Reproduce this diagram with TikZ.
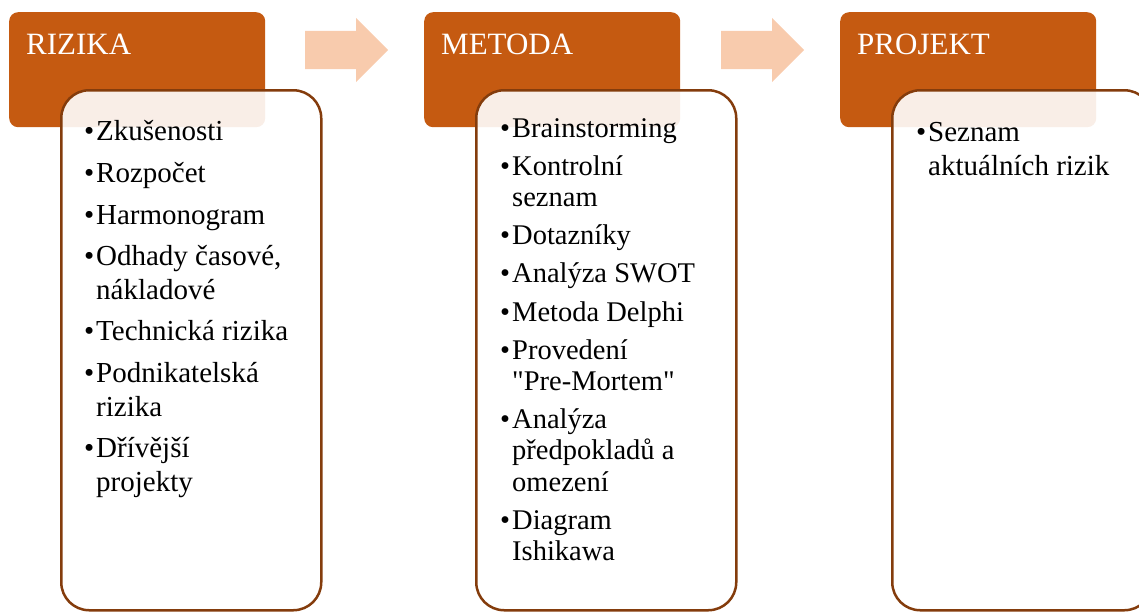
\documentclass[tikz,border=0pt]{standalone}
\usepackage{fontspec}
\setmainfont{Liberation Serif}
\usepackage{array}
\usetikzlibrary{positioning,shapes.arrows}
\definecolor{oranzova}{HTML}{C55A11}
\definecolor{broskev}{HTML}{F8CBAD}
\definecolor{hneda}{HTML}{843C0C}

\begin{document}
\begin{tikzpicture}[x=1pt,y=1pt,
		hlavicka/.style={rectangle,rounded corners=9pt,fill=oranzova,minimum width=256pt,minimum height=115pt,anchor=north west,inner sep=0},
		nadpis/.style={text=white,font=\fontsize{31}{36}\selectfont,inner sep=0},
		seznam/.style={rectangle,rounded corners=28pt,draw=hneda,line width=2.5pt,fill=white,fill opacity=0.9,minimum width=260pt,minimum height=520pt,inner sep=0},
		polozky/.style={inner sep=0,align=left},
		sipka/.style={single arrow,fill=broskev,draw=none,minimum height=83pt,single arrow head extend=13pt,inner xsep=0,inner ysep=19pt,anchor=tail}]
		\useasboundingbox (0,0) rectangle (1139,-611);
		\clip (0,0) rectangle (1139,-611);

		\node[hlavicka](rizika) at (9,-12){};
		\node[hlavicka](metoda) at (424,-12){};
		\node[hlavicka](projekt) at (840,-12){};
		\node[nadpis,below right=21.5pt and 17pt of rizika.north west]{RIZIKA};
		\node[nadpis,below right=21.5pt and 17pt of metoda.north west]{METODA};
		\node[nadpis,below right=21.5pt and 17pt of projekt.north west]{PROJEKT};

		\node[sipka](sipka_1) at (305,-50){};
		\node[sipka](sipka_2) at (721,-50){};

		\node[seznam](rizika_s)[below right=77pt and 51pt of rizika.north west]{};
		\node[seznam](metoda_s)[below right=77pt and 51pt of metoda.north west]{};
		\node[seznam](projekt_s)[below right=77pt and 51pt of projekt.north west]{};

		\node[polozky,font=\fontsize{29}{33.6}\selectfont](rizika_t)[below right=28.2pt and 24pt of rizika_s.north west]{%
			\begin{tabular}{@{}p{12pt}@{}l@{}}
			•&Zkušenosti\\[8pt]
			•&Rozpočet\\[8pt]
			•&Harmonogram\\[8pt]
			•&Odhady časové,\\&nákladové\\[8pt]
			•&Technická rizika\\[8pt]
			•&Podnikatelská\\&rizika\\[8pt]
			•&Dřívější\\&projekty
			\end{tabular}};
		\node[polozky,font=\fontsize{28.5}{31.2}\selectfont](metoda_t)[below right=26pt and 25pt of metoda_s.north west]{%
			\begin{tabular}{@{}p{12pt}@{}l@{}}
			•&Brainstorming\\[7pt]
			•&Kontrolní\\&seznam\\[7pt]
			•&Dotazníky\\[7pt]
			•&Analýza SWOT\\[7pt]
			•&Metoda Delphi\\[7pt]
			•&Provedení\\&\textquotedbl Pre-Mortem\textquotedbl\\[7pt]
			•&Analýza\\&předpokladů a\\&omezení\\[7pt]
			•&Diagram\\&Ishikawa
			\end{tabular}};
		\node[polozky,font=\fontsize{29}{33.3}\selectfont](projekt_t)[below right=29.4pt and 25pt of projekt_s.north west]{%
			\begin{tabular}{@{}p{12pt}@{}l@{}}
			•&Seznam\\&aktuálních rizik
			\end{tabular}};
	\end{tikzpicture}
\end{document}
